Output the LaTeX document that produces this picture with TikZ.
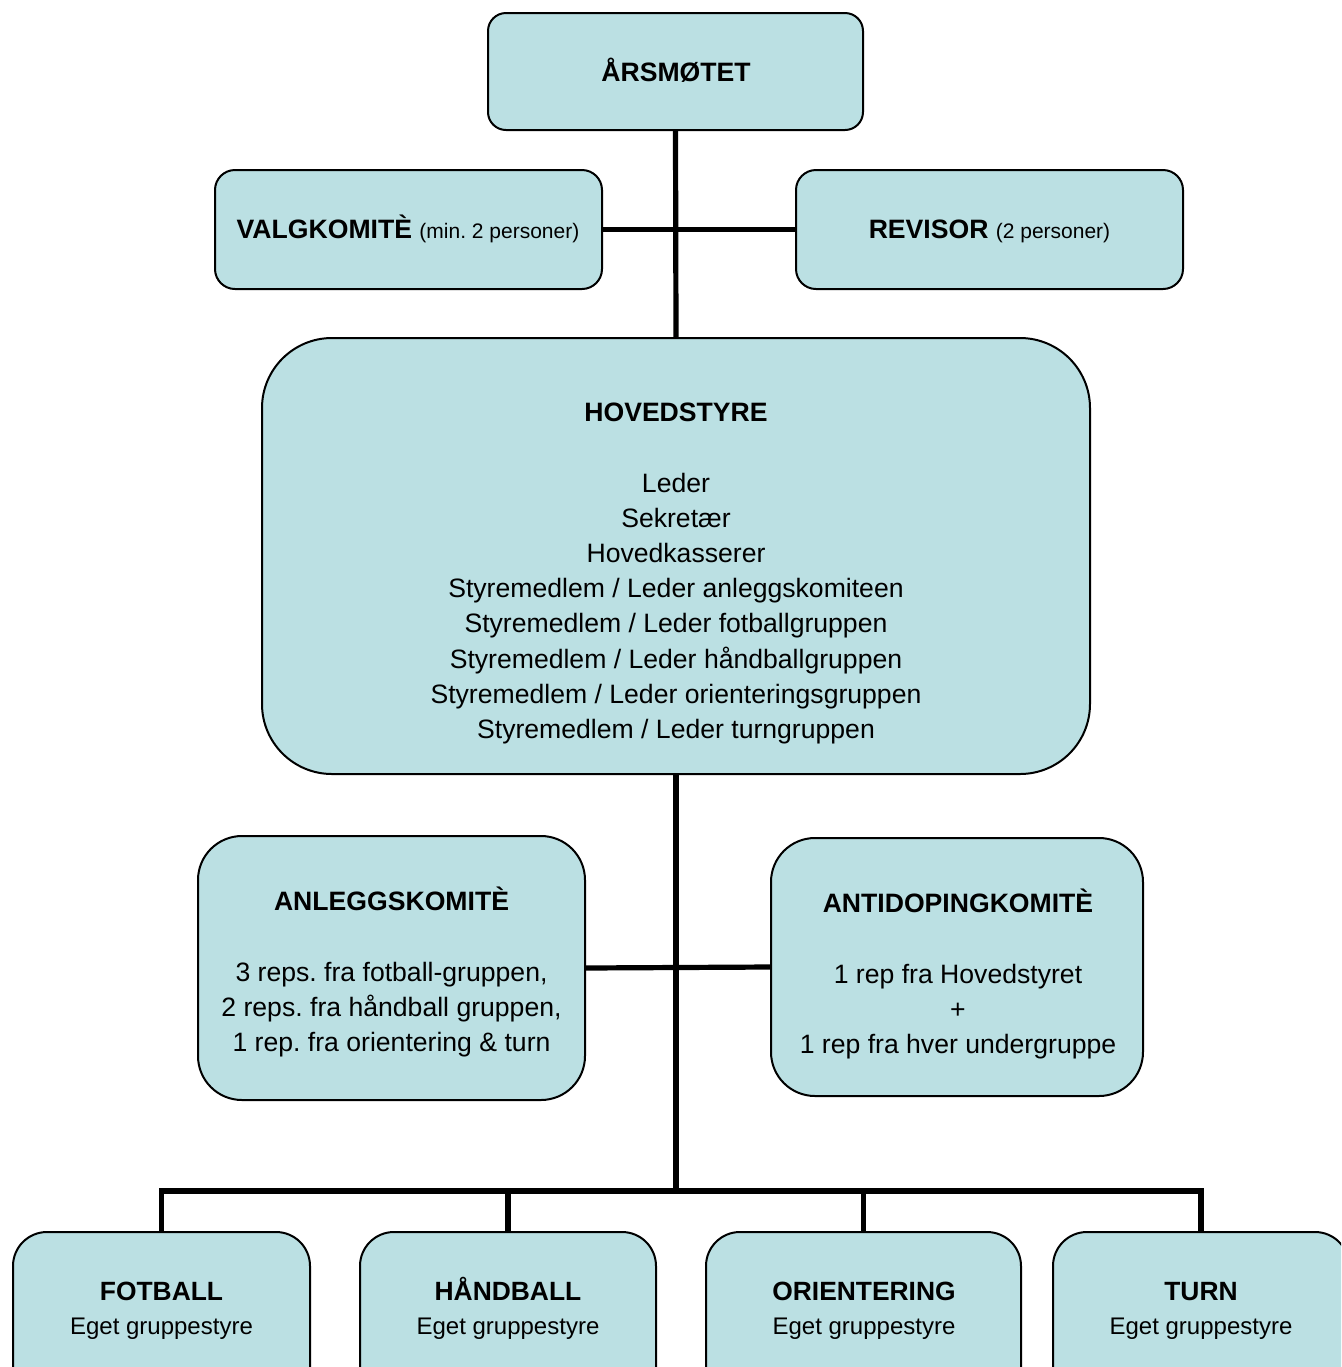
\documentclass[tikz,border=0pt]{standalone}
\usepackage{fontspec}
\setmainfont{Liberation Sans}
\definecolor{boxfill}{RGB}{187,224,227}
\begin{document}
\frenchspacing
\begin{tikzpicture}[x=0.5pt,y=-0.5pt,
  box/.style={draw=black, line width=1pt, fill=boxfill, inner sep=0pt},
  txt/.style={align=center, inner sep=0pt, font=\fontsize{13.3pt}{17.6pt}\selectfont},
  bottxt/.style={align=center, inner sep=0pt, font=\fontsize{12pt}{17pt}\selectfont},
  conn/.style={line width=2.6pt}]
\clip (0,0) rectangle (1341,1367);
\fill[white] (0,0) rectangle (1341,1367);
% boxes
\node[box, rounded corners=9pt, minimum width=187.5pt, minimum height=58.5pt] (ars) at (675.5,71.5) {};
\node[box, rounded corners=10pt, minimum width=193.5pt, minimum height=59.5pt] (valg) at (408.5,229.5) {};
\node[box, rounded corners=10pt, minimum width=193.5pt, minimum height=59.5pt] (rev) at (989.5,229.5) {};
\node[box, rounded corners=35pt, minimum width=414pt, minimum height=218pt] (hoved) at (676,556) {};
\node[box, rounded corners=22pt, minimum width=193.5pt, minimum height=132pt] (anl) at (391.5,968) {};
\node[box, rounded corners=22pt, minimum width=186pt, minimum height=129pt] (anti) at (957,967) {};
\node[box, rounded corners=17pt, minimum width=148.5pt, minimum height=100pt] (fot) at (161.5,1332) {};
\node[box, rounded corners=17pt, minimum width=148pt, minimum height=100pt] (hand) at (508,1332) {};
\node[box, rounded corners=17pt, minimum width=157.5pt, minimum height=100pt] (ori) at (863.5,1332) {};
\node[box, rounded corners=17pt, minimum width=148pt, minimum height=100pt] (turn) at (1201,1332) {};
% connectors
\coordinate (bus) at (676,1191);
\draw[conn] (ars.south) -- (hoved.north);
\draw[conn] (valg.east) -- (rev.west);
\draw[conn] (hoved.south) -- (bus);
\draw[conn] (anl.east) -- (anti.west);
\draw[conn] (fot.north) |- (bus);
\draw[conn] (hand.north) |- (bus);
\draw[conn] (ori.north) |- (bus);
\draw[conn] (turn.north) |- (bus);
% texts
\node[txt] (tars) at (676,70) {\textbf{ÅRSMØTET}};
\node[txt] (tvalg) at (408,229) {\textbf{VALGKOMITÈ} {\fontsize{10.5pt}{12pt}\selectfont(min. 2 personer)}};
\node[txt] (trev) at (989.5,231) {\textbf{REVISOR} {\fontsize{10.5pt}{12pt}\selectfont(2 personer)}};
\node[txt] (thoved) at (676,573.5) {\textbf{HOVEDSTYRE}\\[17.6pt]
Leder\\Sekretær\\Hovedkasserer\\Styremedlem / Leder anleggskomiteen\\
Styremedlem / Leder fotballgruppen\\Styremedlem / Leder håndballgruppen\\
Styremedlem / Leder orienteringsgruppen\\Styremedlem / Leder turngruppen};
\node[txt] (tanl) at (391.5,972) {\textbf{ANLEGGSKOMITÈ}\\[17.6pt]
3 reps. fra fotball-gruppen,\\2 reps. fra håndball gruppen,\\1 rep. fra orientering \& turn};
\node[txt] (tanti) at (958,974) {\textbf{ANTIDOPINGKOMITÈ}\\[17.6pt]
1 rep fra Hovedstyret\\+\\1 rep fra hver undergruppe};
\node[bottxt] (tfot) at (161.5,1308) {{\fontsize{13.2pt}{17pt}\selectfont\textbf{\vphantom{Å}FOTBALL}}\\Eget gruppestyre};
\node[bottxt] (thand) at (508,1308) {{\fontsize{13.2pt}{17pt}\selectfont\textbf{HÅNDBALL}}\\Eget gruppestyre};
\node[bottxt] (tori) at (864,1308) {{\fontsize{13.2pt}{17pt}\selectfont\textbf{\vphantom{Å}ORIENTERING}}\\Eget gruppestyre};
\node[bottxt] (tturn) at (1201,1308) {{\fontsize{13.2pt}{17pt}\selectfont\textbf{\vphantom{Å}TURN}}\\Eget gruppestyre};
\end{tikzpicture}
\end{document}
